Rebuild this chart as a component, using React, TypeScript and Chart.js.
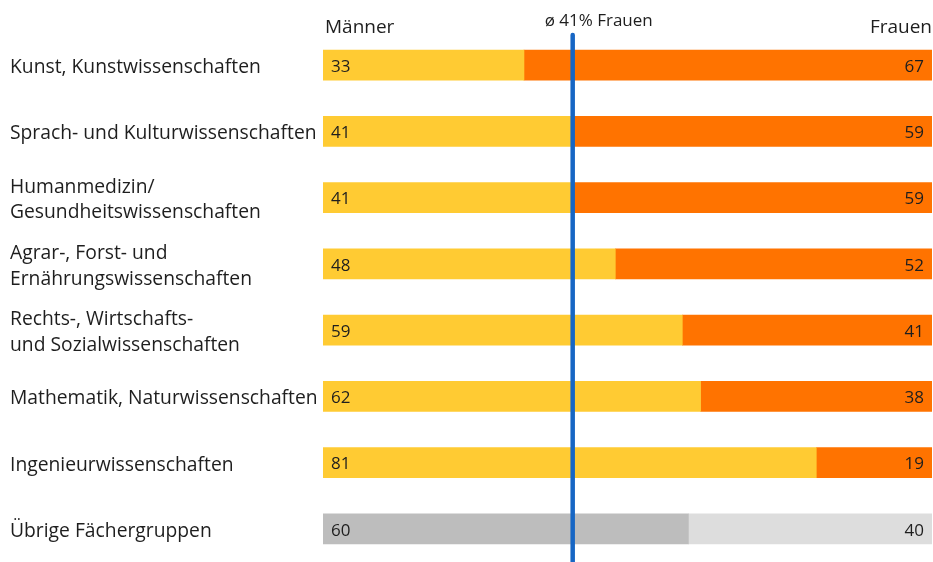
import React, { useEffect, useRef } from "react";
import { Chart, registerables } from "chart.js";

Chart.register(...registerables);

const categories: (string | string[])[] = [
  "Kunst, Kunstwissenschaften",
  "Sprach- und Kulturwissenschaften",
  ["Humanmedizin/", "Gesundheitswissenschaften"],
  ["Agrar-, Forst- und", "Ernährungswissenschaften"],
  ["Rechts-, Wirtschafts-", "und Sozialwissenschaften"],
  "Mathematik, Naturwissenschaften",
  "Ingenieurwissenschaften",
  "Übrige Fächergruppen",
];
const maenner = [33, 41, 41, 48, 59, 62, 81, 60];
const frauen = [67, 59, 59, 52, 41, 38, 19, 40];
const durchschnittFrauen = 41;
const headerLeft = "Männer";
const headerRight = "Frauen";
const headerAvg = "ø 41% Frauen";

const YELLOW = "#FFCB33";
const ORANGE = "#FF7300";
const GRAY_DARK = "#BDBDBD";
const GRAY_LIGHT = "#DDDDDD";
const BLUE = "#1766C4";
const FONT = "'Open Sans', 'Noto Sans', sans-serif";
const TEXT = "#1e1e1e";

const overlay = {
  id: "overlay",
  afterDatasetsDraw(chart: any) {
    const { ctx, chartArea, scales } = chart;
    const xs = scales.x;
    const ys = scales.y;
    ctx.save();
    ctx.fillStyle = TEXT;
    ctx.font = `17px ${FONT}`;
    ctx.textBaseline = "middle";
    maenner.forEach((v, i) => {
      const y = ys.getPixelForValue(i);
      ctx.textAlign = "left";
      ctx.fillText(String(v), chartArea.left + 8, y + 2);
      ctx.textAlign = "right";
      ctx.fillText(String(frauen[i]), chartArea.right - 8, y + 2);
    });
    // average line
    const lx = xs.getPixelForValue(durchschnittFrauen);
    ctx.strokeStyle = BLUE;
    ctx.lineWidth = 4.5;
    ctx.lineCap = "round";
    ctx.beginPath();
    ctx.moveTo(lx, 35);
    ctx.lineTo(lx, chart.height + 5);
    ctx.stroke();
    // headers
    ctx.textBaseline = "alphabetic";
    ctx.font = `19px ${FONT}`;
    ctx.textAlign = "left";
    ctx.fillText(headerLeft, chartArea.left + 2, 33);
    ctx.textAlign = "right";
    ctx.fillText(headerRight, chartArea.right, 33);
    ctx.font = `17px ${FONT}`;
    ctx.textAlign = "center";
    ctx.fillText(headerAvg, lx + 26, 26);
    ctx.restore();
  },
};

export default function App() {
  const ref = useRef<HTMLCanvasElement>(null);
  useEffect(() => {
    if (!ref.current) return;
    const last = categories.length - 1;
    const chart = new Chart(ref.current, {
      type: "bar",
      data: {
        labels: categories,
        datasets: [
          {
            label: "Männer",
            data: maenner,
            backgroundColor: maenner.map((_, i) => (i === last ? GRAY_DARK : YELLOW)),
            barThickness: 30,
          },
          {
            label: "Frauen",
            data: frauen,
            backgroundColor: frauen.map((_, i) => (i === last ? GRAY_LIGHT : ORANGE)),
            barThickness: 30,
          },
        ],
      },
      options: {
        indexAxis: "y",
        animation: false,
        responsive: false,
        maintainAspectRatio: false,
        layout: { padding: { left: 10, top: 32, right: 1, bottom: 0 } },
        plugins: { legend: { display: false }, tooltip: { enabled: false } },
        scales: {
          x: { stacked: true, min: 0, max: 100, display: false },
          y: {
            stacked: true,
            grid: { display: false },
            border: { display: false },
            afterFit: (s: any) => {
              s.width = 313;
              s.paddingTop = 0;
              s.paddingBottom = 0;
              if (!s.__shifted) {
                const orig = Object.getPrototypeOf(s).drawLabels;
                s.drawLabels = function (area: any) {
                  this.ctx.save();
                  this.ctx.translate(0, 2.5);
                  orig.call(this, area);
                  this.ctx.restore();
                };
                s.__shifted = true;
              }
            },
            ticks: {
              crossAlign: "far",
              color: TEXT,
              font: { family: FONT, size: 19.3, lineHeight: 1.32 },
              padding: 0,
            },
          },
        },
      } as any,
      plugins: [overlay],
    });
    return () => chart.destroy();
  }, []);
  return (
    <div style={{ position: "fixed", left: 0, top: 0, width: 933, height: 562, background: "#fff" }}>
      <canvas ref={ref} width={933} height={562} style={{ display: "block" }} />
    </div>
  );
}
